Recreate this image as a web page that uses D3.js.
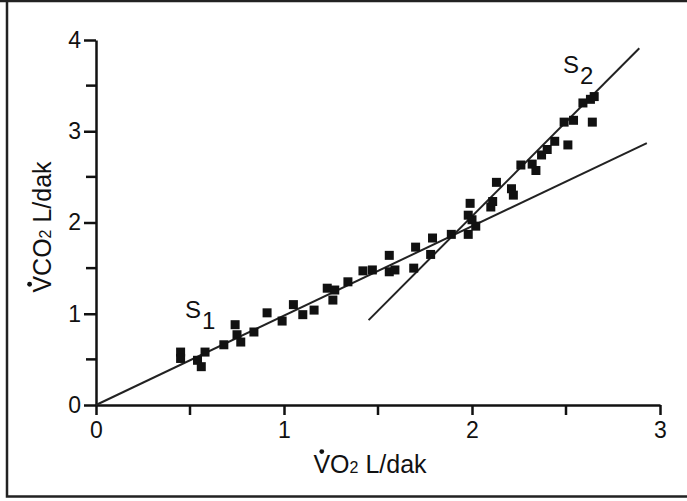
<!DOCTYPE html>
<html>
<head>
<meta charset="utf-8">
<script src="https://cdn.jsdelivr.net/npm/d3@7"></script>
<style>
  body { margin: 0; background: #fff; }
  text { font-family: "Liberation Sans", Arial, sans-serif; fill: #111; }
</style>
</head>
<body>
<div class="chart"></div>
<script>
// size of the picture
const WIDTH = 687;
const HEIGHT = 501;

// measured points, VO2 (L/dak)
const vo2 = [
  0.45, 0.45, 0.54, 0.56, 0.58, 0.68, 0.74, 0.75, 0.77, 0.84,
  0.91, 0.99, 1.05, 1.10, 1.16, 1.23, 1.26, 1.27, 1.34, 1.42,
  1.47, 1.56, 1.56, 1.59, 1.69, 1.70, 1.78, 1.79, 1.89, 1.98,
  1.98, 2.00, 2.02, 1.99, 2.10, 2.11, 2.13, 2.21, 2.22, 2.26,
  2.32, 2.34, 2.37, 2.40, 2.44, 2.49, 2.51, 2.54, 2.59, 2.63,
  2.65, 2.64
];
// measured points, VCO2 (L/dak)
const vco2 = [
  0.58, 0.51, 0.49, 0.42, 0.58, 0.66, 0.88, 0.77, 0.69, 0.80,
  1.01, 0.92, 1.10, 0.99, 1.04, 1.28, 1.15, 1.26, 1.35, 1.47,
  1.48, 1.64, 1.46, 1.48, 1.50, 1.73, 1.65, 1.83, 1.87, 1.87,
  2.08, 2.03, 1.96, 2.21, 2.17, 2.23, 2.44, 2.37, 2.30, 2.63,
  2.64, 2.57, 2.74, 2.80, 2.89, 3.10, 2.85, 3.12, 3.31, 3.35,
  3.38, 3.10
];

// the two fitted lines, [x, y] at each end
const s1Line = [[0, 0], [2.93, 2.87]];
const s2Line = [[1.45, 0.93], [2.89, 3.91]];

const xTicks = [0, 1, 2, 3];
const xMinor = [0.5, 1.5, 2.5];
const yTicks = [0, 1, 2, 3, 4];
const yMinor = [0.5, 1.5, 2.5, 3.5];

const svg = d3
  .select(".chart")
  .append("svg")
  .attr("width", WIDTH)
  .attr("height", HEIGHT);

// frame round the figure
svg.append("path")
  .attr("d", "M7,-5 V496.5 H700 M0,1 H700")
  .attr("fill", "none")
  .attr("stroke", "#222")
  .attr("stroke-width", 2.5);

const x = d3.scaleLinear().domain([0, 3]).range([96, 660]);
const y = d3.scaleLinear().domain([0, 4]).range([405, 40]);

  // x axis
const xAxis = svg.append("g")
  .attr("transform", `translate(0,${y(0)})`)
  .call(d3.axisBottom(x).tickValues(xTicks).tickSize(10).tickSizeOuter(0).tickPadding(7).tickFormat(d3.format("d")));
xAxis.selectAll(".minor").data(xMinor).enter().append("line")
  .attr("x1", d => x(d)).attr("x2", d => x(d)).attr("y1", 0).attr("y2", 10);

  // y axis
const yAxis = svg.append("g")
  .attr("transform", `translate(${x(0)},0)`)
  .call(d3.axisLeft(y).tickValues(yTicks).tickSize(12).tickSizeOuter(0).tickPadding(3).tickFormat(d3.format("d")));
yAxis.selectAll(".minor").data(yMinor).enter().append("line")
  .attr("x1", 0).attr("x2", -10).attr("y1", d => y(d)).attr("y2", d => y(d));

svg.selectAll(".domain, .tick line, g line")
  .attr("stroke", "#111")
  .attr("stroke-width", 2.5);
svg.selectAll(".tick text")
  .attr("font-size", 23)
  .attr("font-family", "Liberation Sans, Arial, sans-serif")
  .attr("fill", "#111");

// fitted lines
const line = d3.line().x(d => x(d[0])).y(d => y(d[1]));
svg.selectAll(".fit")
  .data([s1Line, s2Line])
  .enter()
  .append("path")
  .attr("d", line)
  .attr("fill", "none")
  .attr("stroke", "#222")
  .attr("stroke-width", 2);

// data squares
const SQ = 9;
svg.selectAll(".pt")
  .data(vo2.map((v, i) => [v, vco2[i]]))
  .enter()
  .append("rect")
  .attr("x", d => x(d[0]) - SQ / 2)
  .attr("y", d => y(d[1]) - SQ / 2)
  .attr("width", SQ)
  .attr("height", SQ)
  .attr("fill", "#111");

// S1 and S2 labels
function slopeLabel(px, py, sub) {
  const t = svg.append("text").attr("x", px).attr("y", py).attr("font-size", 24);
  t.append("tspan").text("S");
  t.append("tspan").attr("dy", 11).attr("dx", 1).text(sub);
}
slopeLabel(185, 318, "1");
slopeLabel(563, 73, "2");

// axis title with a dot over the V (flow rate)
function flowTitle(g, gas, fs) {
  const t = g.append("text")
    .attr("x", 0).attr("y", 0)
    .attr("text-anchor", "middle")
    .attr("font-size", fs);
  t.append("tspan").text("V" + gas);
  t.append("tspan").attr("font-size", fs * 0.64).text("2");
  t.append("tspan").text(" L/dak");
  const n = t.node();
  const a = n.getStartPositionOfChar(0).x;
  const b = n.getEndPositionOfChar(0).x;
  g.append("circle")
    .attr("cx", (a + b) / 2)
    .attr("cy", -0.716 * fs - 3.5)
    .attr("r", 2.4)
    .attr("fill", "#111");
}
flowTitle(svg.append("g").attr("transform", "translate(370,473)"), "O", 25);
flowTitle(svg.append("g").attr("transform", "translate(51,227) rotate(-90)"), "CO", 25);
</script>
</body>
</html>
